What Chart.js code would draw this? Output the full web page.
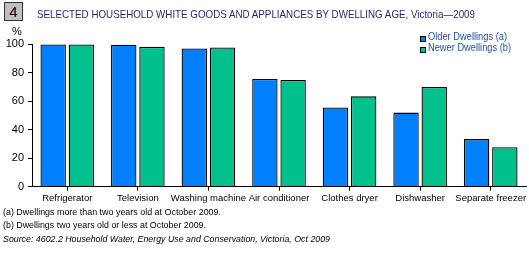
<!DOCTYPE html>
<html><head><meta charset="utf-8">
<script src="https://cdn.jsdelivr.net/npm/chart.js@4/dist/chart.umd.min.js"></script>
<style>
html,body{margin:0;padding:0;background:#fff;width:529px;height:253px;overflow:hidden;}
#wrap{position:relative;width:529px;height:253px;}
canvas{position:absolute;left:0;top:0;}
.t{position:absolute;white-space:nowrap;font-family:"Liberation Sans",Arial,sans-serif;transform-origin:0 50%;}
#num{left:4px;top:2px;width:17px;height:17px;background:#c0c0c0;border:1px solid #333;font-size:15px;line-height:17px;text-align:center;color:#000;}
#title{left:37px;top:8px;font-size:11.5px;color:#2a1f66;}
#pct{left:12px;top:25px;font-size:11px;color:#000;}
.leg{font-size:10px;color:#1f4f9f;}
.sw{position:absolute;width:4px;height:4px;border:1px solid #000;}
.fn{font-size:9px;color:#000;}
</style></head>
<body><div id="wrap">
<canvas id="c" width="529" height="253"></canvas>
<div class="t" id="num">4</div>
<div class="t fit" data-w="438" id="title">SELECTED HOUSEHOLD WHITE GOODS AND APPLIANCES BY DWELLING AGE, Victoria—2009</div>
<div class="t" id="pct">%</div>
<div class="sw" style="left:420px;top:36px;background:#0080ff"></div>
<div class="t leg fit" data-w="79" style="left:428px;top:31px;">Older Dwellings (a)</div>
<div class="sw" style="left:420px;top:47px;background:#00c08c"></div>
<div class="t leg fit" data-w="83" style="left:428px;top:42px;">Newer Dwellings (b)</div>
<div class="t fn fit" data-w="218" style="left:3px;top:207px;">(a) Dwellings more than two years old at October 2009.</div>
<div class="t fn fit" data-w="203" style="left:3px;top:220px;">(b) Dwellings two years old or less at October 2009.</div>
<div class="t fn fit" data-w="327" style="left:3px;top:234px;font-style:italic;">Source: 4602.2 Household Water, Energy Use and Conservation, Victoria, Oct 2009</div>
</div>
<script>
const categories = ["Refrigerator","Television","Washing machine","Air conditioner","Clothes dryer","Dishwasher","Separate freezer"];
const olderDwellings = [99.7, 99.5, 96.9, 75.5, 55.5, 51.9, 33.3];
const newerDwellings = [99.7, 98.0, 97.6, 74.8, 63.3, 69.8, 27.6];
const yTicks = [0,20,40,60,80,100];

document.querySelectorAll('.fit').forEach(el => {
  const w = el.getBoundingClientRect().width;
  const target = parseFloat(el.dataset.w);
  el.style.transform = 'scaleX(' + (target / w) + ')';
});

const FONT = '"Liberation Sans",Arial,sans-serif';
new Chart(document.getElementById('c'), {
  type: 'bar',
  data: {
    labels: categories,
    datasets: [
      {label:'Older Dwellings (a)', data: olderDwellings, backgroundColor:'#0080ff', borderColor:'#000', borderWidth:1.3, borderSkipped:'bottom'},
      {label:'Newer Dwellings (b)', data: newerDwellings, backgroundColor:'#00c08c', borderColor:'#000', borderWidth:1.3, borderSkipped:'bottom'}
    ]
  },
  options: {
    responsive:false, animation:false,
    layout:{padding:{left:0,top:44,right:3,bottom:47}},
    plugins:{legend:{display:false}, tooltip:{enabled:false}},
    scales:{
      x:{
        z:1,
        offset:true,
        grid:{offset:false, drawOnChartArea:false, drawTicks:true, tickLength:4, tickColor:'#000'},
        border:{color:'#000', width:1},
        ticks:{color:'#000', font:{family:FONT, size:9.5}, padding:2, maxRotation:0, autoSkip:false},
        categoryPercentage:0.66, barPercentage:1.0
      },
      y:{
        z:1,
        min:0, max:100,
        afterBuildTicks: s => { s.ticks = yTicks.map(v => ({value:v})); },
        afterFit: s => { s.width = 32; },
        grid:{color: c => (c.tick && c.tick.value>0 && c.tick.value<100) ? '#ffffff' : 'rgba(0,0,0,0)', lineWidth:1, drawTicks:true, tickLength:4, tickColor:'#000'},
        border:{color:'#000', width:1},
        ticks:{color:'#000', font:{family:FONT, size:11}, padding:4}
      }
    }
  }
});
</script>
</body></html>
